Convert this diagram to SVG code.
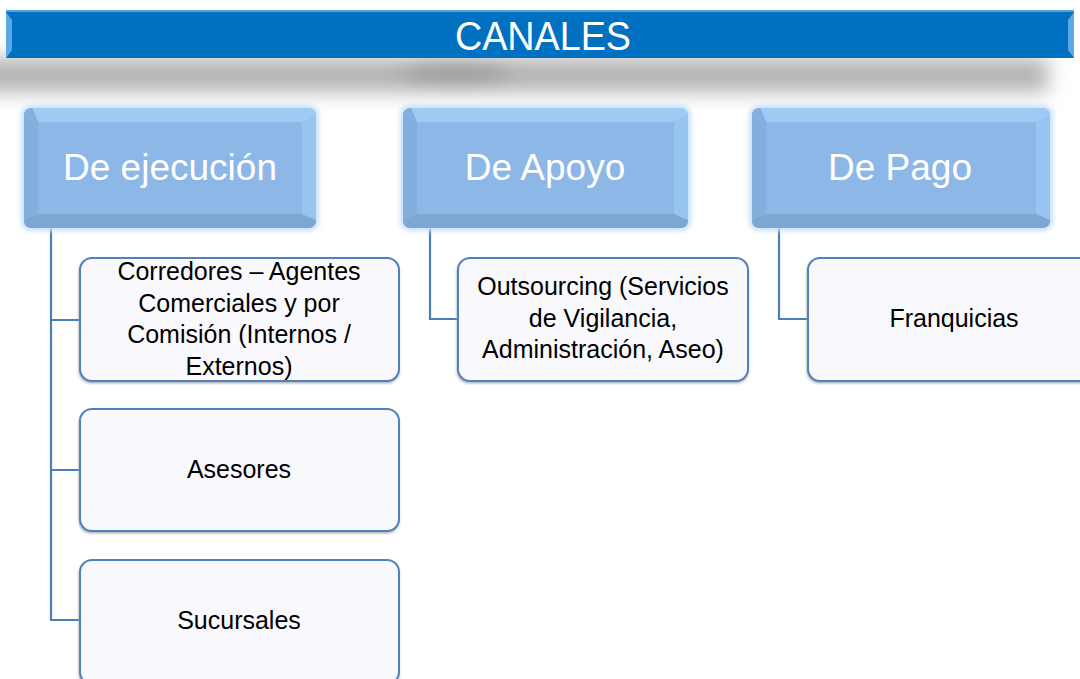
<svg xmlns="http://www.w3.org/2000/svg" width="1080" height="679" viewBox="0 0 1080 679">
<defs>
<filter id="blur" x="-10%" y="-200%" width="120%" height="500%"><feGaussianBlur stdDeviation="10"/></filter>
<filter id="glow" x="-10%" y="-10%" width="120%" height="120%"><feGaussianBlur stdDeviation="2.5"/></filter>
<filter id="sh" x="-10%" y="-10%" width="120%" height="130%"><feGaussianBlur stdDeviation="1.5"/></filter>
</defs>
<style>
.hdr{font-family:"Liberation Sans",Arial,sans-serif;font-size:37px;fill:#ffffff;text-anchor:middle}
.lbl{font-family:"Liberation Sans",Arial,sans-serif;font-size:25px;fill:#000000;text-anchor:middle}
.child{fill:#F9F9FD;stroke:#4F81BD;stroke-width:2}
.conn{fill:none;stroke:#4A7EBB;stroke-width:2.2}
.body{fill:#8DB7E7}
.etop{fill:#9ECAF4}
.eleft{fill:#84AEDD}
.ebot{fill:#7FA6D3}
.eright{fill:#98C4F0}
</style>
<rect width="1080" height="679" fill="#ffffff"/>
<!-- title shadow -->
<g filter="url(#blur)">
<rect x="-30" y="58" width="1078" height="34" fill="#B2B2B2"/>
<ellipse cx="455" cy="72" rx="55" ry="12" fill="#999999"/>
</g>
<!-- title bar -->
<g id="title">
<rect x="6" y="10" width="1068" height="48" fill="#0070C0"/>
<rect x="6" y="10" width="1068" height="2" fill="#4FA3E6"/>
<polygon points="6,12 12,20 12,50 6,58" fill="#5AA8E8"/>
<polygon points="1074,12 1068,20 1068,50 1074,58" fill="#5AA8E8"/>
<text x="543" y="50" font-family="Liberation Sans,Arial,sans-serif" font-size="41" fill="#ffffff" text-anchor="middle" textLength="176" lengthAdjust="spacingAndGlyphs">CANALES</text>
</g>
<!-- connectors -->
<g id="connectors">
<path class="conn" d="M51,228 V620 H80 M51,320 H80 M51,470 H80"/>
<path class="conn" d="M430,228 V319 H458"/>
<path class="conn" d="M779,228 V319 H808"/>
</g>
<!-- header nodes -->
<g id="n-ejecucion">
<rect x="21" y="105" width="298" height="126" rx="10" fill="#C6E0FA" filter="url(#glow)"/>
<rect x="24" y="108" width="292" height="120" rx="8" class="body"/>
<path class="etop" d="M32,108 H308 Q316,108 316,116 L302,122 H38 Z"/>
<path class="eleft" d="M24,116 Q24,108 32,108 L38,122 V214 L24,220 Z"/>
<path class="ebot" d="M24,220 L38,214 H302 L316,220 Q316,228 308,228 H32 Q24,228 24,220 Z"/>
<path class="eright" d="M316,116 V220 L302,214 V122 Z"/>
<text class="hdr" x="170" y="180">De ejecución</text>
</g>
<g id="n-apoyo">
<rect x="400" y="105" width="291" height="126" rx="10" fill="#C6E0FA" filter="url(#glow)"/>
<rect x="403" y="108" width="285" height="120" rx="8" class="body"/>
<path class="etop" d="M411,108 H680 Q688,108 688,116 L674,122 H417 Z"/>
<path class="eleft" d="M403,116 Q403,108 411,108 L417,122 V214 L403,220 Z"/>
<path class="ebot" d="M403,220 L417,214 H674 L688,220 Q688,228 680,228 H411 Q403,228 403,220 Z"/>
<path class="eright" d="M688,116 V220 L674,214 V122 Z"/>
<text class="hdr" x="545" y="180">De Apoyo</text>
</g>
<g id="n-pago">
<rect x="749" y="105" width="304" height="126" rx="10" fill="#C6E0FA" filter="url(#glow)"/>
<rect x="752" y="108" width="298" height="120" rx="8" class="body"/>
<path class="etop" d="M760,108 H1042 Q1050,108 1050,116 L1036,122 H766 Z"/>
<path class="eleft" d="M752,116 Q752,108 760,108 L766,122 V214 L752,220 Z"/>
<path class="ebot" d="M752,220 L766,214 H1036 L1050,220 Q1050,228 1042,228 H760 Q752,228 752,220 Z"/>
<path class="eright" d="M1050,116 V220 L1036,214 V122 Z"/>
<text class="hdr" x="900" y="180">De Pago</text>
</g>
<!-- child nodes -->
<g id="n-corredores">
<rect x="79" y="260" width="320" height="123" rx="12" fill="#9A9A9A" filter="url(#sh)"/>
<rect x="80" y="258" width="319" height="123" rx="12" class="child"/>
<text class="lbl" x="239" y="280">Corredores – Agentes</text>
<text class="lbl" x="239" y="312">Comerciales y por</text>
<text class="lbl" x="239" y="343">Comisión (Internos /</text>
<text class="lbl" x="239" y="375">Externos)</text>
</g>
<g id="n-asesores">
<rect x="79" y="411" width="320" height="122" rx="12" fill="#9A9A9A" filter="url(#sh)"/>
<rect x="80" y="409" width="319" height="122" rx="12" class="child"/>
<text class="lbl" x="239" y="478">Asesores</text>
</g>
<g id="n-sucursales">
<rect x="79" y="562" width="320" height="124" rx="12" fill="#9A9A9A" filter="url(#sh)"/>
<rect x="80" y="560" width="319" height="124" rx="12" class="child"/>
<text class="lbl" x="239" y="629">Sucursales</text>
</g>
<g id="n-outsourcing">
<rect x="457" y="260" width="291" height="123" rx="12" fill="#9A9A9A" filter="url(#sh)"/>
<rect x="458" y="258" width="290" height="123" rx="12" class="child"/>
<text class="lbl" x="603" y="295">Outsourcing (Servicios</text>
<text class="lbl" x="603" y="327">de Vigilancia,</text>
<text class="lbl" x="603" y="358">Administración, Aseo)</text>
</g>
<g id="n-franquicias">
<rect x="807" y="260" width="290" height="123" rx="12" fill="#9A9A9A" filter="url(#sh)"/>
<rect x="808" y="258" width="290" height="123" rx="12" class="child"/>
<text class="lbl" x="954" y="327">Franquicias</text>
</g>
</svg>
